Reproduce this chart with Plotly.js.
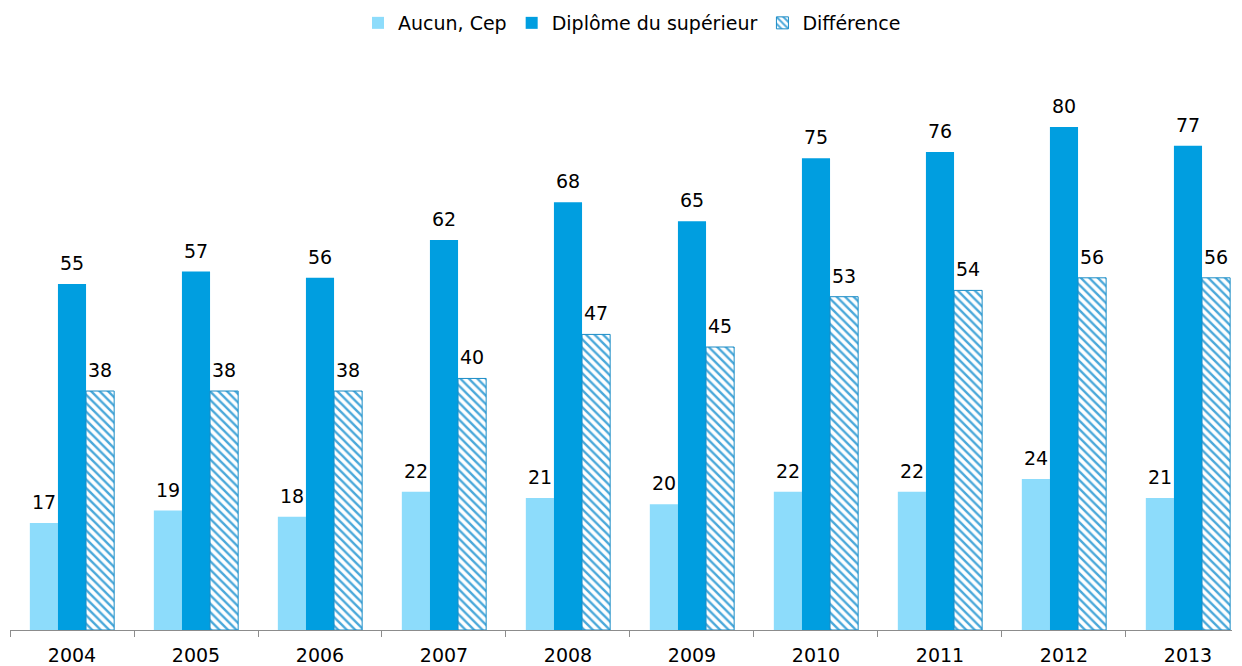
<!DOCTYPE html>
<html>
<head>
<meta charset="utf-8">
<script src="https://cdn.plot.ly/plotly-3.0.1.min.js"></script>
<style>html,body{margin:0;padding:0;background:#fff;}#chart{width:1242px;height:666px;}</style>
</head>
<body>
<div id="chart"></div>
<script>
const years = ['2004','2005','2006','2007','2008','2009','2010','2011','2012','2013'];
const aucunCep = [17,19,18,22,21,20,22,22,24,21];
const diplomeSup = [55,57,56,62,68,65,75,76,80,77];
const difference = [38,38,38,40,47,45,53,54,56,56];
const seriesNames = ['Aucun, Cep','Diplôme du supérieur','Différence'];

const font = {family: 'DejaVu Sans, Verdana, sans-serif', size: 19, color: '#000'};

const W = 1242, H = 666;
const margin = {l: 10, r: 10, t: 64, b: 36, pad: 0, autoexpand: false};
const xRange = [-0.5, 9.355];
const bargap = 0.32;
const plotW = W - margin.l - margin.r;
const pxPerCat = plotW / (xRange[1] - xRange[0]);
const barW = pxPerCat * (1 - bargap) / 3;

function barTrace(name, values, marker) {
  return {
    type: 'bar', name: name, x: years, y: values,
    marker: marker, hoverinfo: 'x+y+name'
  };
}

const data = [
  barTrace(seriesNames[0], aucunCep, {color: '#8DDCFB', line: {width: 0}}),
  barTrace(seriesNames[1], diplomeSup, {color: '#009EE0', line: {width: 0}}),
  barTrace(seriesNames[2], difference, {
    color: '#FFFFFF',
    line: {color: '#1A8CC6', width: 1},
    pattern: {shape: '\\', fgcolor: '#4AA8DA', bgcolor: '#FFFFFF', size: 6, solidity: 0.4}
  })
];

const seriesValues = [aucunCep, diplomeSup, difference];
const annotations = [];
seriesValues.forEach((vals, si) => {
  vals.forEach((v, i) => {
    annotations.push({
      x: i, y: v, xref: 'x', yref: 'y',
      text: String(v), showarrow: false,
      xanchor: 'center', yanchor: 'bottom',
      xshift: Math.round((si - 1) * barW), yshift: 8,
      font: {family: font.family, size: font.size, color: font.color}
    });
  });
});

const layout = {
  width: W, height: H,
  margin: margin,
  paper_bgcolor: '#fff', plot_bgcolor: '#fff',
  barmode: 'group', bargap: bargap, bargroupgap: 0,
  font: font,
  showlegend: true,
  legend: {orientation: 'h', x: 0.509, xanchor: 'center', y: 1 + (64 - 23) / 566, yanchor: 'middle', font: font, bgcolor: 'rgba(0,0,0,0)'},
  annotations: annotations,
  xaxis: {
    type: 'category', range: xRange,
    showline: true, linecolor: '#8C8C8C', linewidth: 1,
    ticks: 'outside', tickson: 'boundaries', ticklen: 6, tickcolor: '#8C8C8C',
    ticklabelstandoff: 8,
    tickfont: font, showgrid: false, zeroline: false, fixedrange: true
  },
  yaxis: {
    range: [0, 90], showticklabels: false, ticks: '', showline: false,
    showgrid: false, zeroline: false, fixedrange: true
  }
};

Plotly.newPlot('chart', data, layout, {displayModeBar: false, staticPlot: true});
</script>
</body>
</html>
